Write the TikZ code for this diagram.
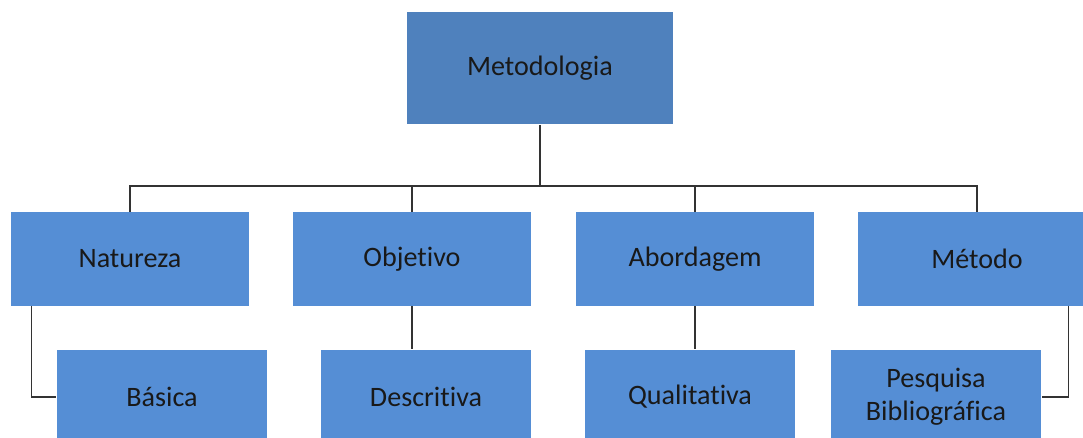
\documentclass[tikz,border=0pt]{standalone}
\usepackage{fontspec}
\setmainfont[Ligatures=NoCommon]{Carlito}
\usetikzlibrary{calc,positioning}

\begin{document}
\begin{tikzpicture}[x=0.02cm,y=-0.02cm,
  topbox/.style={fill=topblue, minimum width=5.32cm, minimum height=2.26cm, font=\fontsize{16}{19}\selectfont, text=black!90},
  subbox/.style={fill=boxblue, minimum width=4.76cm, minimum height=1.88cm, font=\fontsize{16}{19}\selectfont, text=black!90},
  leafbox/.style={fill=boxblue, minimum width=4.22cm, minimum height=1.90cm, align=center, font=\fontsize{16}{19}\selectfont, text=black!90},
  link/.style={draw=black!80, line width=0.8pt}]

\definecolor{topblue}{HTML}{4F81BD}
\definecolor{boxblue}{HTML}{558ED5}

% Canvas
\useasboundingbox (0,0) rectangle (1083,437);
\clip (0,0) rectangle (1083,437);

% ===== TOP =====
\node[topbox] (meto) at (540,68) {Metodologia};

% ===== SECOND LEVEL =====
\node[subbox] (nat) at (130,259) {Natureza};
\node[subbox] (obj) at (412,259) {Objetivo};
\node[subbox] (abo) at (695,259) {Abordagem};
\node[subbox] (met) at (977,259) {Método};

% ===== THIRD LEVEL =====
\node[leafbox] (bas) at (162,397) {Básica};
\node[leafbox] (des) at (426,397) {Descritiva};
\node[leafbox] (qua) at (690,397) {Qualitativa};
\node[leafbox] (pes) at (936,397) {Pesquisa\\Bibliográfica};

% ===== CONNECTORS =====
\coordinate (bus) at (0,186);
\draw[link] (meto.south) -- (meto.south |- bus);
\draw[link] (nat.north) -- (nat.north |- bus) -- (met.north |- bus) -- (met.north);
\draw[link] (obj.north) -- (obj.north |- bus);
\draw[link] (abo.north) -- (abo.north |- bus);

\draw[link] ($(nat.south west)+(21,0)$) |- (bas.west);
\draw[link] (obj.south) -- (obj.south |- des.north);
\draw[link] (abo.south) -- (abo.south |- qua.north);
\draw[link] ($(met.south west)+(211,0)$) |- (pes.east);

\end{tikzpicture}
\end{document}
